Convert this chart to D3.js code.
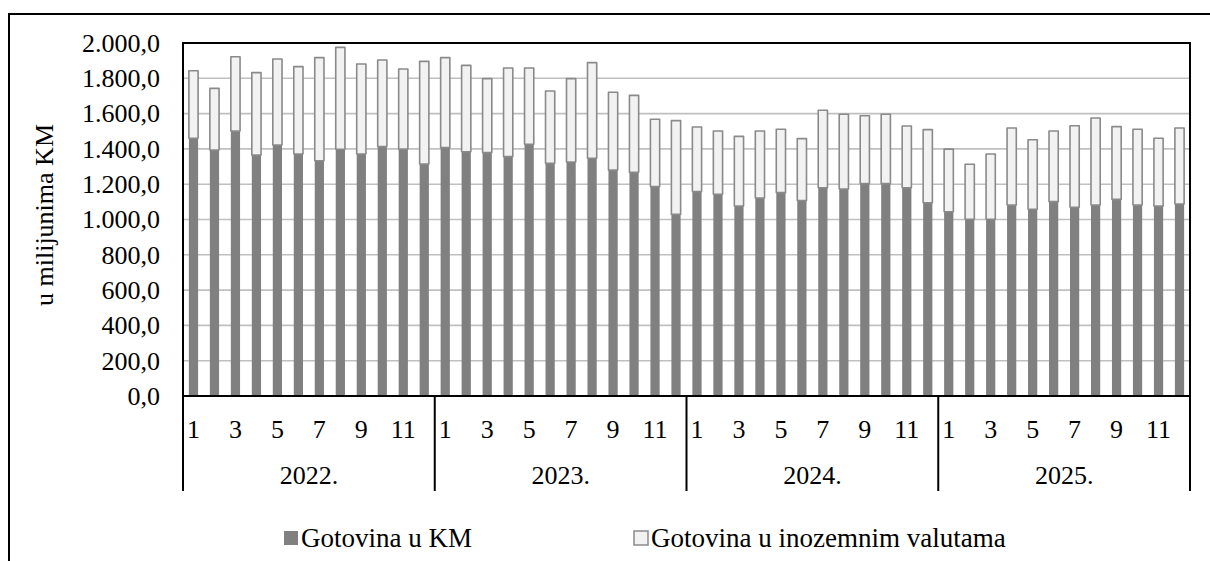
<!DOCTYPE html>
<html>
<head>
<meta charset="utf-8">
<style>
@font-face { font-family: "ChartSerif"; src: local("Liberation Serif"), local("LiberationSerif"), local("LiberationSerif-Regular"), local("Tinos"), local("Times New Roman"); }
</style>
<script src="https://cdn.jsdelivr.net/npm/d3@7"></script>
</head>
<body style="margin:0;padding:0;background:#ffffff;">
<svg id="chart" width="1210" height="561" style="display:block"></svg>
<script>
// ---- data ----
const years = ["2022.", "2023.", "2024.", "2025."];
const months = [1, 2, 3, 4, 5, 6, 7, 8, 9, 10, 11, 12];
// Gotovina u KM (million KM)
const cashKM = [
  1460, 1394, 1501, 1365, 1422, 1371, 1333, 1398, 1371, 1413, 1399, 1314,
  1407, 1384, 1379, 1356, 1426, 1318, 1326, 1347, 1280, 1267, 1186, 1029,
  1158, 1143, 1076, 1122, 1152, 1107, 1180, 1173, 1203, 1203, 1180, 1095,
  1044, 1001, 1001, 1082, 1058, 1101, 1069, 1082, 1114, 1082, 1076, 1088
];
// Gotovina u inozemnim valutama (million KM)
const cashFX = [
  383, 349, 421, 467, 487, 495, 584, 577, 510, 491, 454, 582,
  510, 489, 419, 502, 432, 410, 472, 542, 441, 436, 382, 531,
  366, 358, 395, 379, 359, 351, 439, 423, 385, 393, 350, 414,
  355, 312, 370, 436, 394, 400, 462, 493, 412, 429, 384, 430
];
const seriesNames = ["Gotovina u KM", "Gotovina u inozemnim valutama"];
const yTicks = [0, 200, 400, 600, 800, 1000, 1200, 1400, 1600, 1800, 2000];
const monthLabels = [1, 3, 5, 7, 9, 11];
const yTitle = "u milijunima KM";

// ---- layout ----
const FONT = '"Liberation Serif", ChartSerif, Tinos, "Times New Roman", serif';
const svg = d3.select("#chart");
const plot = { left: 183, right: 1190, top: 43, bottom: 396 };
const fontSize = 26;

function serif(sel, size) {
  return sel.style("font-family", FONT).style("font-size", size + "px").attr("fill", "#000");
}

const rows = [];
years.forEach((yr, yi) => months.forEach((m, mi) => {
  const i = yi * 12 + mi;
  rows.push({ key: yr + "-" + m, year: yr, month: m, km: cashKM[i], fx: cashFX[i] });
}));

const x = d3.scaleBand()
  .domain(rows.map(d => d.key))
  .range([plot.left, plot.right])
  .paddingInner(0.56)
  .paddingOuter(0.28);

const y = d3.scaleLinear().domain([0, 2000]).range([plot.bottom, plot.top]);

const loc = d3.formatLocale({ decimal: ",", thousands: ".", grouping: [3], currency: ["", ""] });
const fmt = loc.format(",.1f");

// outer frame
svg.append("rect")
  .attr("x", 9).attr("y", 14).attr("width", 1220).attr("height", 570)
  .attr("fill", "none").attr("stroke", "#000").attr("stroke-width", 2);

// gridlines
svg.append("g")
  .selectAll("line").data(yTicks.filter(t => t > 0)).join("line")
  .attr("x1", plot.left).attr("x2", plot.right)
  .attr("y1", d => y(d)).attr("y2", d => y(d))
  .attr("stroke", "#c0c0c0").attr("stroke-width", 1.6);

// y axis labels
const yAxis = d3.axisLeft(y).tickValues(yTicks).tickFormat(fmt).tickSize(0).tickPadding(23);
const gy = svg.append("g").attr("transform", `translate(${plot.left},0)`).call(yAxis);
gy.attr("font-family", null).attr("font-size", null);
gy.select(".domain").remove();
serif(gy.selectAll("text"), fontSize);

// bars
const bw = x.bandwidth();
const barG = svg.append("g");
barG.selectAll("rect.km").data(rows).join("rect")
  .attr("class", "km")
  .attr("x", d => x(d.key)).attr("width", bw)
  .attr("y", d => y(d.km)).attr("height", d => y(0) - y(d.km))
  .attr("fill", "#808080");
barG.selectAll("rect.fx").data(rows).join("rect")
  .attr("class", "fx")
  .attr("x", d => x(d.key)).attr("width", bw)
  .attr("y", d => y(d.km + d.fx)).attr("height", d => y(d.km) - y(d.km + d.fx))
  .attr("fill", "#f2f2f2").attr("stroke", "#8a8a8a").attr("stroke-width", 1.6)
  .attr("stroke-linejoin", "round");

// plot frame
svg.append("rect")
  .attr("x", plot.left).attr("y", plot.top)
  .attr("width", plot.right - plot.left).attr("height", plot.bottom - plot.top)
  .attr("fill", "none").attr("stroke", "#000").attr("stroke-width", 2);

// category axis: month labels
const axisG = svg.append("g");
serif(axisG.selectAll("text.month")
  .data(rows.filter(d => monthLabels.includes(d.month))).join("text")
  .attr("class", "month")
  .attr("x", d => x(d.key) + bw / 2).attr("y", 438)
  .attr("text-anchor", "middle")
  .text(d => d.month), fontSize);

// year separators and labels
const step = x.step();
const yearBounds = years.map((yr, i) => {
  const first = x(yr + "-1") - x.paddingOuter() * step;
  return { yr, x0: first, x1: first + step * 12 };
});
yearBounds[0].x0 = plot.left;
yearBounds[yearBounds.length - 1].x1 = plot.right;

const sepX = [yearBounds[0].x0].concat(yearBounds.map(d => d.x1));
axisG.selectAll("line.sep").data(sepX).join("line")
  .attr("class", "sep")
  .attr("x1", d => d).attr("x2", d => d)
  .attr("y1", plot.bottom).attr("y2", 491)
  .attr("stroke", "#000").attr("stroke-width", 2);

serif(axisG.selectAll("text.year").data(yearBounds).join("text")
  .attr("class", "year")
  .attr("x", d => (d.x0 + d.x1) / 2).attr("y", 484)
  .attr("text-anchor", "middle")
  .text(d => d.yr), fontSize);

// y title
serif(svg.append("text")
  .attr("transform", "translate(53,215) rotate(-90)")
  .attr("text-anchor", "middle")
  .text(yTitle), fontSize);

// legend
const legend = [
  { name: seriesNames[0], fill: "#808080", stroke: "none", x: 284 },
  { name: seriesNames[1], fill: "#f2f2f2", stroke: "#8a8a8a", x: 634 }
];
const lg = svg.append("g");
legend.forEach(l => {
  lg.append("rect")
    .attr("x", l.x).attr("y", 531).attr("width", 14).attr("height", 14)
    .attr("fill", l.fill).attr("stroke", l.stroke).attr("stroke-width", 1.5);
  serif(lg.append("text")
    .attr("x", l.x + 17).attr("y", 547)
    .text(l.name), 27);
});

// make sure the serif face is loaded, then force a relayout
if (document.fonts && document.fonts.load) {
  Promise.all([
    document.fonts.load('26px "Liberation Serif"'),
    document.fonts.load('26px ChartSerif')
  ]).then(() => {
    svg.selectAll("text").style("font-family", FONT);
  }).catch(() => {});
}
</script>
</body>
</html>
